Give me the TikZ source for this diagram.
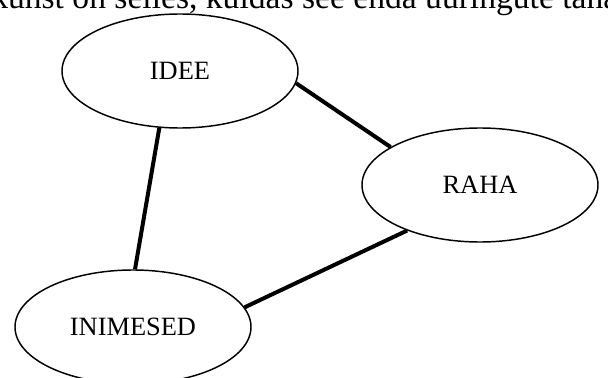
\documentclass[tikz,border=0pt]{standalone}
\usepackage{fontspec}
\setmainfont{Liberation Serif}
\usetikzlibrary{shapes.geometric}
\begin{document}
\begin{tikzpicture}[x=0.75pt,y=-0.75pt,
  bubble/.style={draw=black, line width=1.1pt, shape=ellipse, inner sep=0pt,
    minimum width=177pt, minimum height=85.5pt, font=\fontsize{19.8pt}{24pt}\selectfont},
  link/.style={draw=black, line width=3pt}]
\useasboundingbox (0,0) rectangle (608,378);
\clip (0,0) rectangle (608,378);
\node[anchor=base west, inner sep=0pt, font=\fontsize{25.2pt}{30pt}\selectfont] (top) at (-9,9) {kunst on selles, kuidas see enda uuringute täna};
\node[bubble] (idee) at (180,71) {IDEE};
\node[bubble] (raha) at (480,185) {RAHA};
\node[bubble] (inim) at (133,327) {INIMESED};
\draw[link] (idee.-6) -- (raha.157.8);
\draw[link] (idee.250) -- (inim.88);
\draw[link] (raha.212.7) -- (inim.10);
\end{tikzpicture}
\end{document}
